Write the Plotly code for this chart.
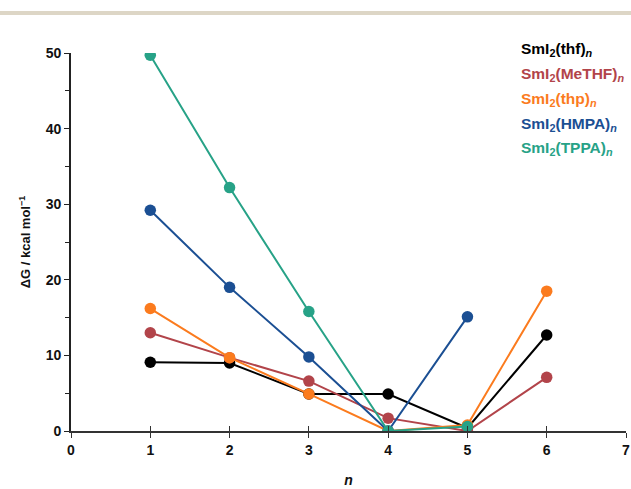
import plotly.graph_objects as go

n_vals = [1, 2, 3, 4, 5, 6]
series_names = ["SmI<sub>2</sub>(thf)<sub><i>n</i></sub>",
                "SmI<sub>2</sub>(MeTHF)<sub><i>n</i></sub>",
                "SmI<sub>2</sub>(thp)<sub><i>n</i></sub>",
                "SmI<sub>2</sub>(HMPA)<sub><i>n</i></sub>",
                "SmI<sub>2</sub>(TPPA)<sub><i>n</i></sub>"]
thf = [9.1, 9.0, 4.9, 4.9, 0.4, 12.7]
methf = [13.0, 9.7, 6.6, 1.7, 0.0, 7.1]
thp = [16.2, 9.7, 4.9, 0.0, 0.8, 18.5]
hmpa = [29.2, 19.0, 9.8, 0.0, 15.1]
tppa = [49.7, 32.2, 15.8, 0.0, 0.6]
colors = ["#000000", "#b2444a", "#fb7b1e", "#1b4f93", "#27a287"]

all_series = [thf, methf, thp, hmpa, tppa]

fig = go.Figure()
for name, ys, c in zip(series_names, all_series, colors):
    fig.add_trace(go.Scatter(x=n_vals[:len(ys)], y=ys, mode="lines+markers",
                             name=name, line=dict(color=c, width=2),
                             marker=dict(color=c, size=11.5), showlegend=False))

# dummy trace for overlaid axis (inside ticks to emulate cross ticks)
fig.add_trace(go.Scatter(x=[0], y=[0], xaxis="x2", yaxis="y", mode="markers",
                         marker=dict(opacity=0), showlegend=False, hoverinfo="skip"))

font_family = "Liberation Sans, Arial, sans-serif"
for i, (name, c) in enumerate(zip(series_names, colors)):
    fig.add_annotation(xref="paper", yref="paper", x=0.807, y=1.008 - i * 0.0653,
                       xanchor="left", yanchor="middle", showarrow=False,
                       text="<b>" + name + "</b>",
                       font=dict(family=font_family, size=15.5, color=c))

fig.update_layout(
    width=631, height=489,
    margin=dict(l=71, r=5, t=53, b=58),
    paper_bgcolor="white", plot_bgcolor="white",
    font=dict(family=font_family, color="#111"),
    xaxis=dict(range=[0, 7], tickvals=list(range(8)), ticks="outside", ticklen=5,
               tickwidth=1.2, tickcolor="#333", showline=True, linecolor="#333", linewidth=1.5,
               showgrid=False, zeroline=False, automargin=False, ticklabeloverflow="allow",
               tickfont=dict(size=14, family=font_family, weight="bold", color="#111"),
               title=dict(text="<b><i>n</i></b>", font=dict(size=14, family=font_family), standoff=19)),
    xaxis2=dict(range=[0, 7], overlaying="x", anchor="y", side="bottom",
                tickvals=list(range(8)), ticks="inside", ticklen=5, tickwidth=1.2,
                tickcolor="#333", showticklabels=False, showgrid=False, zeroline=False,
                showline=False),
    yaxis=dict(range=[0, 50], tickvals=[0, 10, 20, 30, 40, 50], ticks="outside", ticklen=5,
               tickwidth=1.2, tickcolor="#222", showline=True, linecolor="#222", linewidth=1.8,
               showgrid=False, zeroline=False, automargin=False,
               minor=dict(tickvals=[5, 15, 25, 35, 45], ticks="outside", ticklen=4,
                          tickcolor="#222", tickwidth=1),
               tickfont=dict(size=14, family=font_family, weight="bold", color="#111"),
               title=dict(text="<b>ΔG / kcal mol<sup>−1</sup></b>",
                          font=dict(size=13, family=font_family), standoff=12)),
)

fig.add_shape(type="rect", xref="paper", yref="paper", x0=-0.2, x1=1.1,
              y0=(431 - 15) / 378, y1=(431 - 11) / 378,
              fillcolor="#ddd6c6", line=dict(width=0), layer="above")

fig.write_html("out.html", config={"displayModeBar": False},
               post_script="document.body.style.margin='0';document.body.style.overflow='hidden';")
